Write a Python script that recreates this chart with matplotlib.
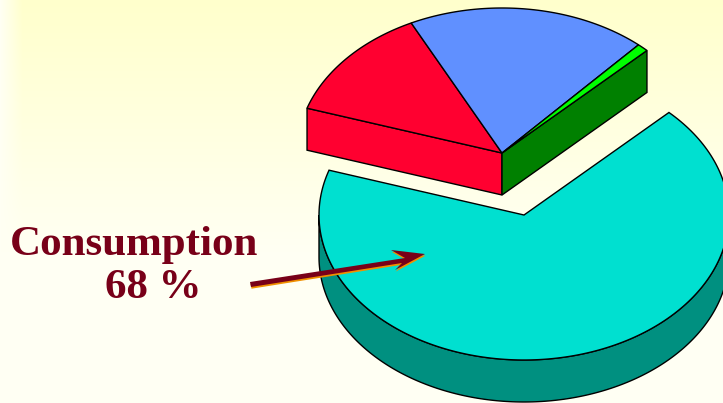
import numpy as np
import matplotlib
matplotlib.use('Agg')
import matplotlib.pyplot as plt
from matplotlib.patches import Polygon

# shares in percent
shares_main = [67.5]
shares_rest = [12.7, 18.9, 0.9]
colors_rest = ['#ff0030', '#6090ff', '#00ff00']
START = 162.0  # angle on the left where consumption begins

# pie geometry in pixels
A, B = 205, 145
DEPTH = 42
CX_MAIN, CY_MAIN = 524, 215
CX_REST, CY_REST = 502, 153


def arc(cx, cy, t0, t1):
    t = np.radians(np.linspace(t0, t1, 200))
    return np.column_stack([cx + A * np.cos(t), cy - B * np.sin(t)])


fig = plt.figure(figsize=(7.23, 4.03), dpi=100)
ax = fig.add_axes([0, 0, 1, 1])

# background, pale yellow fading down and towards the left edge
gy = np.clip(np.linspace(0, 1, 403) * 1.6, 0, 1).reshape(-1, 1)
gx = np.clip(np.linspace(0, 723, 723) / 22, 0, 1).reshape(1, -1)
blue = 204 + (243 - 204) * gy
blue = blue + (243 - blue) * (1 - gx)
bg = np.dstack([np.full(blue.shape, 255.0), np.full(blue.shape, 255.0), blue]) / 255
ax.imshow(bg, extent=[0, 723, 403, 0], aspect='auto', zorder=0)
ax.set_xlim(0, 723)
ax.set_ylim(403, 0)
ax.axis('off')

# consumption slice
t0 = START
t1 = t0 + shares_main[0] * 3.6
side = np.vstack([arc(CX_MAIN, CY_MAIN, 180, 360), arc(CX_MAIN, CY_MAIN + DEPTH, 360, 180)])
ax.add_patch(Polygon(side, fc='#009080', ec='black', lw=1, zorder=1))
top_face = np.vstack([[[CX_MAIN, CY_MAIN]], arc(CX_MAIN, CY_MAIN, t0, t1)])
ax.add_patch(Polygon(top_face, fc='#00e0d0', ec='black', lw=1, zorder=2))

# the pulled out slices, walls first
angles = [START]
for s in shares_rest:
    angles.append(angles[-1] - s * 3.6)

p_left = arc(CX_REST, CY_REST, angles[0], angles[0] + 0.01)[0]
p_right = arc(CX_REST, CY_REST, angles[-1], angles[-1] + 0.01)[0]
ax.add_patch(Polygon([p_left, [CX_REST, CY_REST], [CX_REST, CY_REST + DEPTH], p_left + [0, DEPTH]],
                     fc=colors_rest[0], ec='black', lw=1, zorder=3))
ax.add_patch(Polygon([[CX_REST, CY_REST], p_right, p_right + [0, DEPTH], [CX_REST, CY_REST + DEPTH]],
                     fc='#008000', ec='black', lw=1, zorder=3))

for i, c in enumerate(colors_rest):
    pts = np.vstack([[[CX_REST, CY_REST]], arc(CX_REST, CY_REST, angles[i], angles[i + 1])])
    ax.add_patch(Polygon(pts, fc=c, ec='black', lw=1, zorder=4))

# arrow
arrow = np.array([[250, 282], [405, 258], [391, 250], [425, 254], [395, 270], [402, 263], [251, 287]])
ax.add_patch(Polygon(arrow + [0.5, 1.7], fc='#f09000', ec='none', zorder=5))
ax.add_patch(Polygon(arrow, fc='#780018', ec='none', zorder=6))

ax.text(134, 245, 'Consumption', family='Liberation Serif', weight='bold', size=31,
        color='#780018', ha='center', va='center', zorder=7)
ax.text(153, 288, '68 %', family='Liberation Serif', weight='bold', size=31,
        color='#780018', ha='center', va='center', zorder=7)

fig.savefig('out.png', dpi=100)
